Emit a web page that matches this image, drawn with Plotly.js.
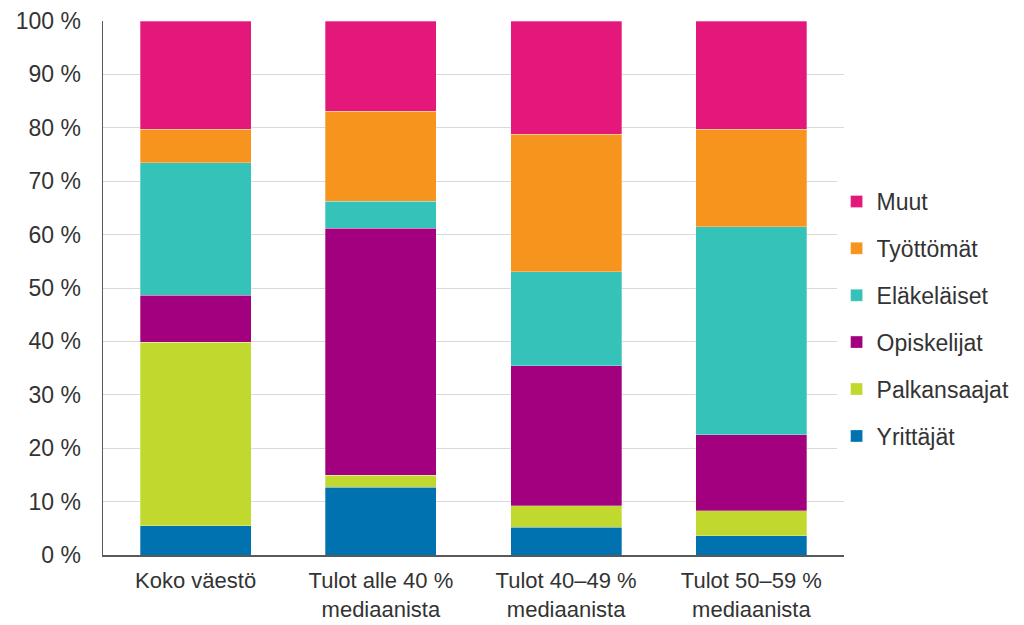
<!DOCTYPE html>
<html><head><meta charset="utf-8">
<script src="https://cdn.plot.ly/plotly-3.0.1.min.js"></script>
<style>html,body{margin:0;padding:0;background:#fff}#chart{width:1024px;height:625px}</style>
</head><body><div id="chart"></div>
<script>
const categories = ["Koko väestö", "Tulot alle 40 %<br>mediaanista", "Tulot 40–49 %<br>mediaanista", "Tulot 50–59 %<br>mediaanista"];
const seriesNames = ["Yrittäjät", "Palkansaajat", "Opiskelijat", "Eläkeläiset", "Työttömät", "Muut"];
const yrittajat    = [5.5, 12.7, 5.2, 3.6];
const palkansaajat = [34.3, 2.2, 4.0, 4.7];
const opiskelijat  = [8.8, 46.3, 26.2, 14.2];
const elakelaiset  = [24.9, 5.0, 17.6, 39.0];
const tyottomat    = [6.2, 16.9, 25.8, 18.2];
const muut         = [20.3, 16.9, 21.2, 20.3];
const tickValues = [0, 10, 20, 30, 40, 50, 60, 70, 80, 90, 100];
const tickLabels = ["0 %", "10 %", "20 %", "30 %", "40 %", "50 %", "60 %", "70 %", "80 %", "90 %", "100 %"];
const colors = ["#0072b0", "#c1d82f", "#a3007f", "#35c2b9", "#f7941d", "#e4187a"];

const seriesValues = [yrittajat, palkansaajat, opiskelijat, elakelaiset, tyottomat, muut];
const traces = seriesNames.map((name, i) => ({
  type: "bar",
  name: name,
  x: categories,
  y: seriesValues[i],
  legendgroup: "g" + i,
  legendrank: seriesNames.length - i,
  marker: {color: colors[i], line: {color: "rgba(255,255,255,0.6)", width: 0.5}},
  hoverinfo: "name+y"
}));

const font = {family: "Liberation Sans, Arial, sans-serif", size: 23, color: "#333333"};
const xfont = {family: "Liberation Sans, Arial, sans-serif", size: 22, color: "#333333"};
const layout = {
  width: 1024, height: 625,
  margin: {l: 103, r: 180, t: 21, b: 70, autoexpand: false},
  paper_bgcolor: "#ffffff", plot_bgcolor: "#ffffff",
  barmode: "stack",
  bargap: 0.4,
  font: font,
  showlegend: true,
  legend: {
    x: 0.99, xanchor: "left", y: 0.442, yanchor: "middle",
    traceorder: "grouped", tracegroupgap: 14,
    font: {family: "Liberation Sans, Arial, sans-serif", size: 23, color: "#333333"},
    itemwidth: 30
  },
  xaxis: {
    showgrid: false, showline: true, linecolor: "#595959", linewidth: 2,
    ticks: "", ticklabelstandoff: 5, tickfont: xfont, fixedrange: true
  },
  yaxis: {
    range: [0, 100], tickvals: tickValues, ticktext: tickLabels,
    showgrid: true, gridcolor: "#d9d9d9", gridwidth: 1,
    showline: true, linecolor: "#595959", linewidth: 1.5,
    ticks: "", ticklabelstandoff: 16, tickfont: font, zeroline: false, fixedrange: true
  }
};
Plotly.newPlot("chart", traces, layout, {displayModeBar: false, staticPlot: true});
</script></body></html>
